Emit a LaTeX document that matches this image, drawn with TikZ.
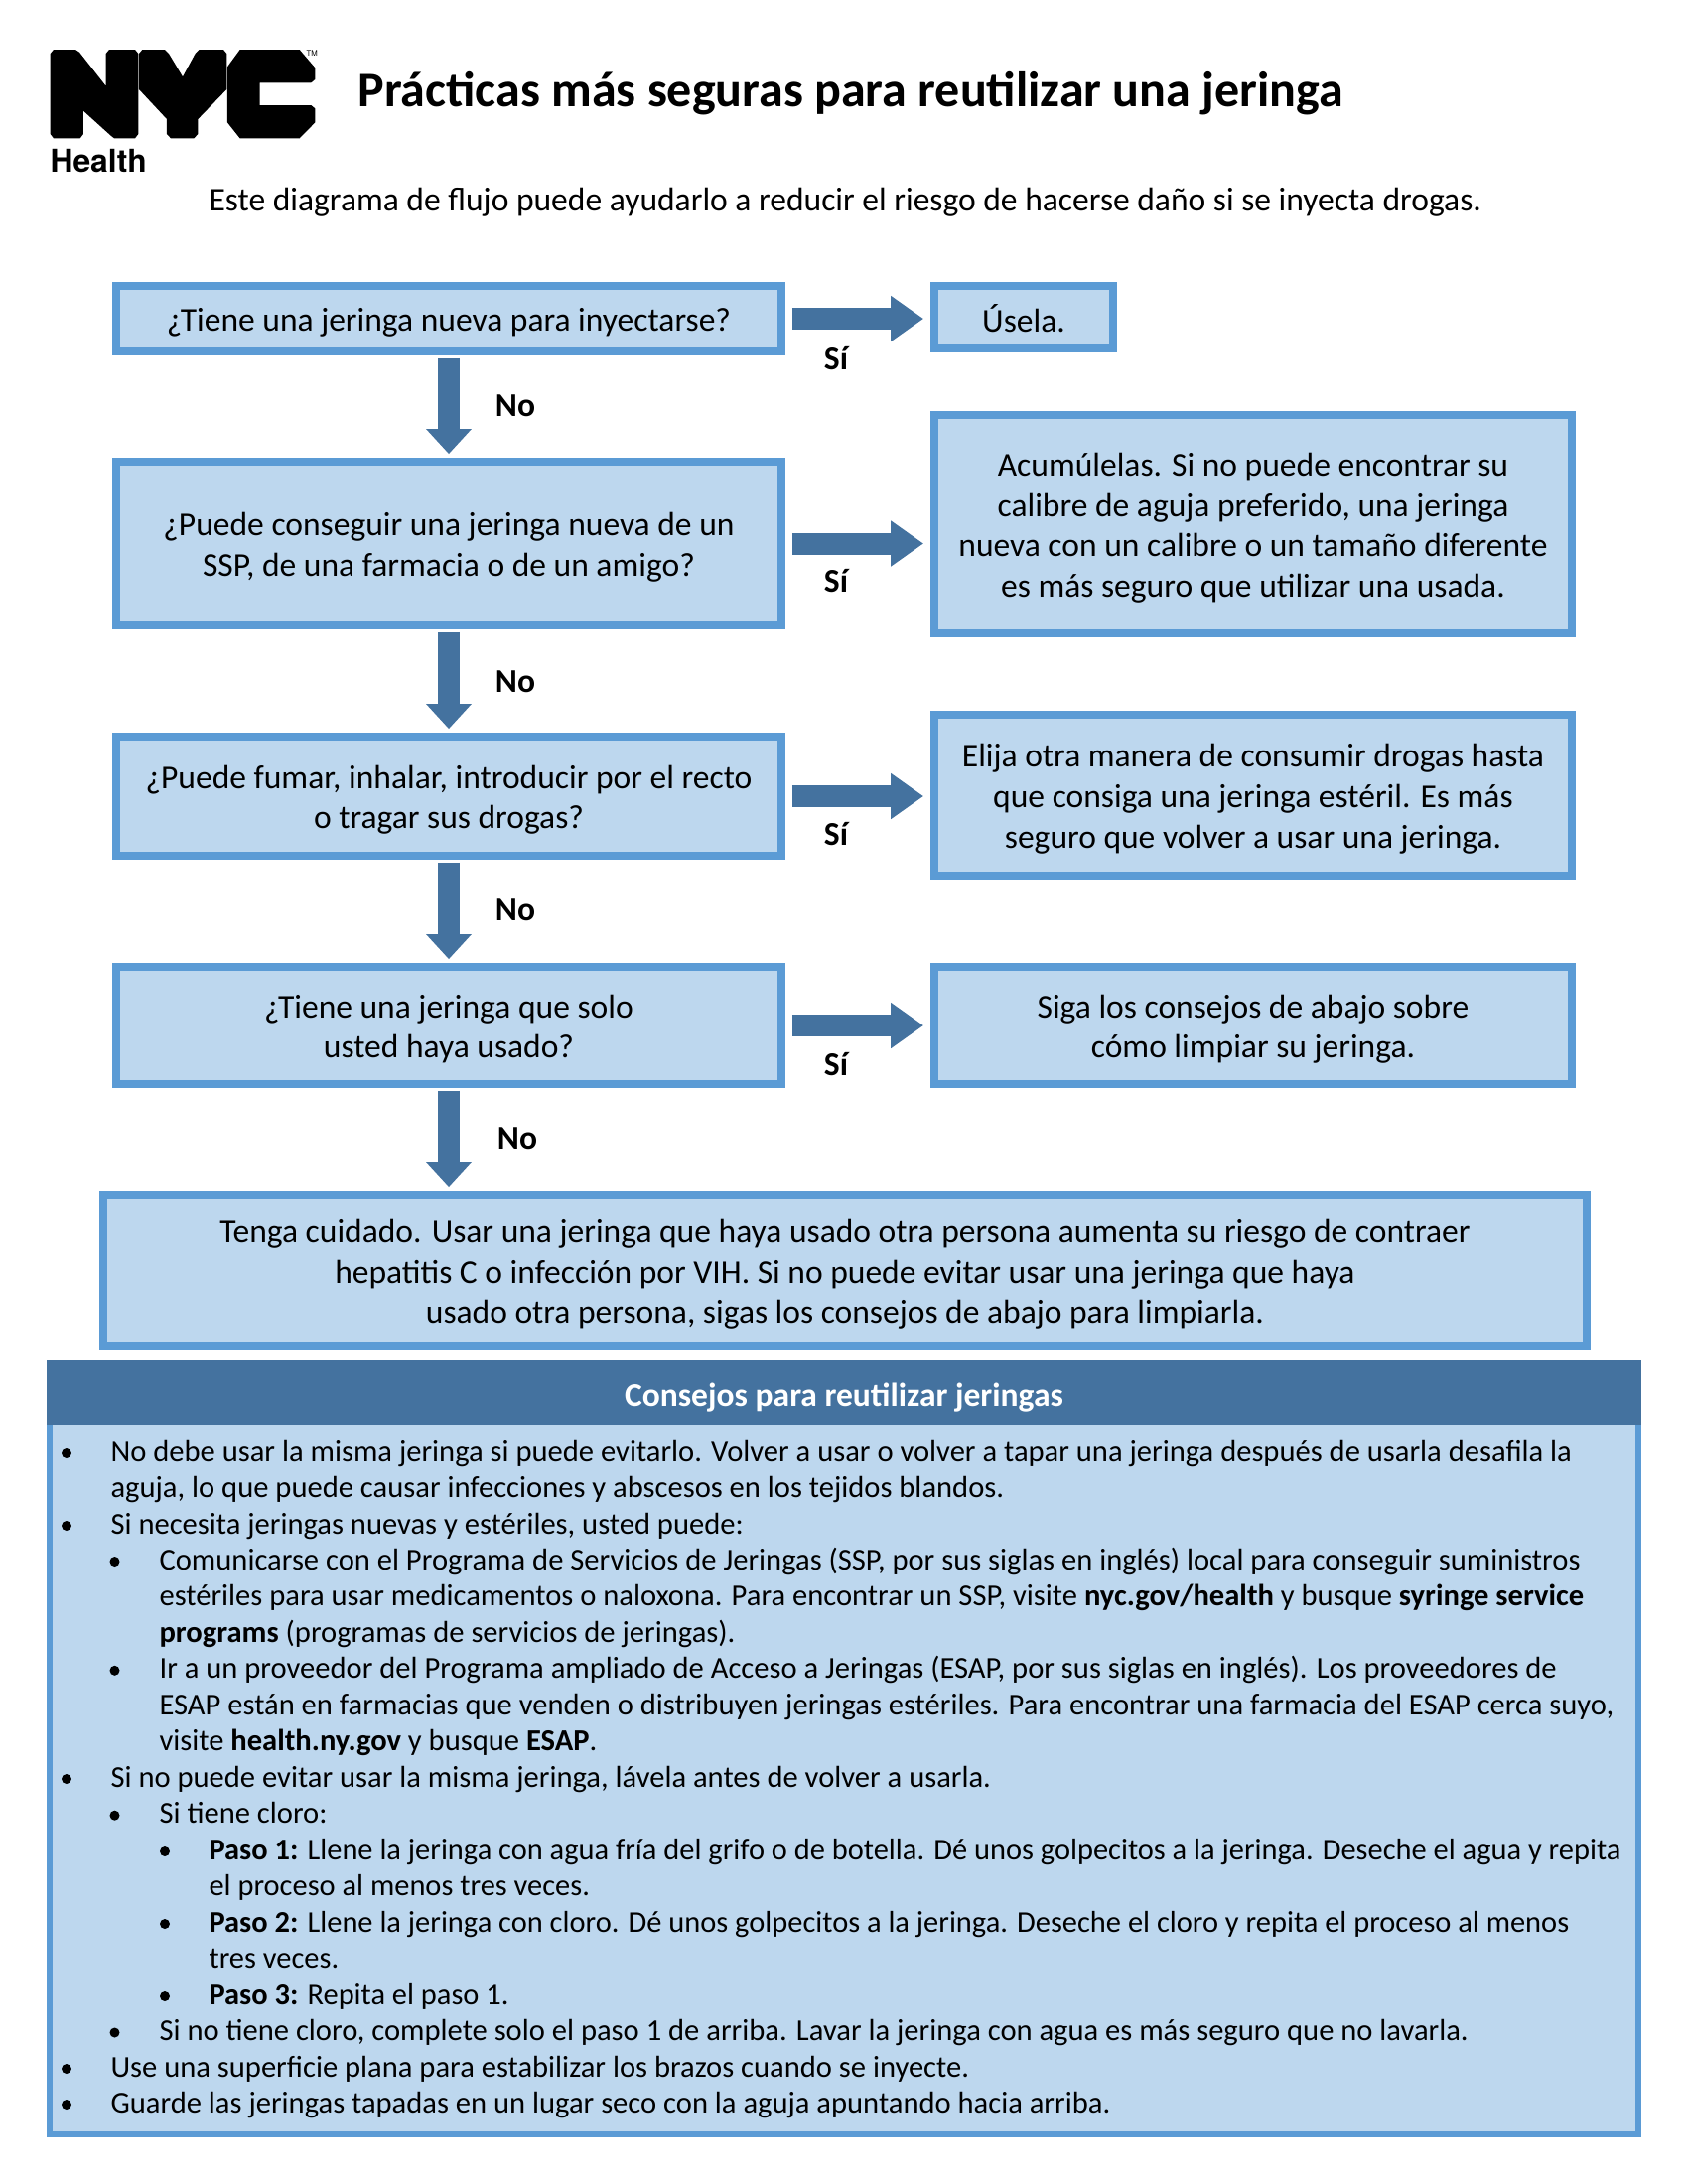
\documentclass[tikz,border=0pt]{standalone}
\usepackage{fontspec}
\setmainfont{Carlito}
\newfontfamily\heroslogo{TeX Gyre Heros}
\usetikzlibrary{arrows.meta}
\definecolor{boxfill}{HTML}{BDD7EE}
\definecolor{boxline}{HTML}{5B9BD5}
\definecolor{arrowblue}{HTML}{44729F}
\def\px{0.36135pt}
\newcommand{\toprow}{\rule{0pt}{11pt}}
\begin{document}
\begin{tikzpicture}
[x=0.36135pt, y=-0.36135pt, font=\fontsize{12.12}{14.7}\selectfont]
\tikzstyle{flowbox}=[rectangle, draw=boxline, fill=boxfill, line width=2.89pt, align=center, inner sep=0mm]
\tikzstyle{tiptext}=[anchor=north west, align=left, inner sep=0mm, font=\fontsize{11.05}{13.18}\selectfont]
\tikzstyle{steptext}=[tiptext, font=\fontsize{11}{13.18}\selectfont]
\tikzstyle{tipdot}=[circle, fill=black, inner sep=0mm, minimum size=10*\px]
\tikzstyle{answer}=[font=\fontsize{12.12}{14.7}\selectfont\bfseries, inner sep=0mm]
\tikzstyle{yesarrow}=[arrowblue, line width=7.95pt, -{Triangle[width=15.9pt,length=11.9pt]}, shorten <=2.5pt, shorten >=2.5pt]
\tikzstyle{noarrow}=[arrowblue, line width=7.95pt, -{Triangle[width=15.9pt,length=9pt]}, shorten <=1pt, shorten >=1.4pt]
\useasboundingbox (0,0) rectangle (1700,2200);

\begin{scope}[shift={(40,40)}, scale=0.33333]
\fill (42,30)--(108,30)--(120,38)--(200,140)--(200,42)--(210,30)--(288,30)--(298,42)--(298,285)--(288,298)--(225,298)--(215,290)--(132,215)--(132,285)--(122,298)--(42,298)--(32,285)--(32,42)--cycle;
\fill (310,30)--(378,30)--(390,42)--(432,112)--(470,42)--(482,30)--(555,30)--(565,42)--(565,150)--(478,240)--(478,285)--(466,298)--(396,298)--(384,285)--(384,240)--(300,150)--(300,42)--cycle;
\fill (605,30)--(785,30)--(832,85)--(832,120)--(820,130)--(665,130)--(665,198)--(820,198)--(832,208)--(832,250)--(785,298)--(605,298)--(567,250)--(567,82)--cycle;
\end{scope}
\node[anchor=north west, inner sep=0mm, font=\heroslogo\fontsize{2.8}{3}\selectfont] (tm) at (308,50) {TM};
\node[anchor=base west, inner sep=0mm, font=\heroslogo\fontsize{11.5}{13}\selectfont\bfseries] (health) at (50,173) {Health};

\node[anchor=base west, inner sep=0mm, font=\fontsize{18.08}{22}\selectfont\bfseries] (title) at (360,107) {Prácticas más seguras para reutilizar una jeringa};
\node[anchor=base west, inner sep=0mm] (intro) at (210,212.5) {Este diagrama de flujo puede ayudarlo a reducir el riesgo de hacerse daño si se inyecta drogas.};

\node[flowbox, minimum width=670*\px, minimum height=66*\px]	(B1)	at (452,321)	{\toprow ¿Tiene una jeringa nueva para inyectarse?};
\node[flowbox, minimum width=670*\px, minimum height=165*\px]	(B2)	at (452,547.5)	{\toprow ¿Puede conseguir una jeringa nueva de un\\SSP, de una farmacia o de un amigo?};
\node[flowbox, minimum width=670*\px, minimum height=120*\px]	(B3)	at (452,802)	{\toprow ¿Puede fumar, inhalar, introducir por el recto\\o tragar sus drogas?};
\node[flowbox, minimum width=670*\px, minimum height=118*\px]	(B4)	at (452,1033)	{\toprow ¿Tiene una jeringa que solo\\usted haya usado?};
\node[flowbox, minimum width=1494*\px, minimum height=152*\px]	(B5)	at (851,1280)	{\toprow Tenga cuidado. Usar una jeringa que haya usado otra persona aumenta su riesgo de contraer\\hepatitis C o infección por VIH. Si no puede evitar usar una jeringa que haya\\usado otra persona, sigas los consejos de abajo para limpiarla.};

\node[flowbox, minimum width=180*\px, minimum height=63*\px]	(Y1)	at (1031,319.5)	{\toprow Úsela.};
\node[flowbox, minimum width=642*\px, minimum height=220*\px]	(Y2)	at (1262,528)	{\toprow Acumúlelas. Si no puede encontrar su\\calibre de aguja preferido, una jeringa\\nueva con un calibre o un tamaño diferente\\es más seguro que utilizar una usada.};
\node[flowbox, minimum width=642*\px, minimum height=162*\px]	(Y3)	at (1262,801)	{\toprow Elija otra manera de consumir drogas hasta\\que consiga una jeringa estéril. Es más\\seguro que volver a usar una jeringa.};
\node[flowbox, minimum width=642*\px, minimum height=118*\px]	(Y4)	at (1262,1033)	{\toprow Siga los consejos de abajo sobre\\cómo limpiar su jeringa.};

\draw[yesarrow]    (B1.east)--(B1.east -| Y1.west);
\draw[yesarrow]    (B2.east)--(B2.east -| Y2.west);
\draw[yesarrow]    (B3.east)--(B3.east -| Y3.west);
\draw[yesarrow]    (B4.east)--(B4.east -| Y4.west);
\draw[noarrow]    (B1.south)--(B2.north);
\draw[noarrow]    (B2.south)--(B3.north);
\draw[noarrow]    (B3.south)--(B4.north);
\draw[noarrow]    (B4.south)--(B4.south |- B5.north);

\node[answer]	(S1)	at (842,361)	{Sí};
\node[answer]	(S2)	at (842,585)	{Sí};
\node[answer]	(S3)	at (842,840)	{Sí};
\node[answer]	(S4)	at (842,1072)	{Sí};
\node[answer]	(N1)	at (519,409)	{No};
\node[answer]	(N2)	at (519,687)	{No};
\node[answer]	(N3)	at (519,917)	{No};
\node[answer]	(N4)	at (521,1147)	{No};

\node[rectangle, draw=boxline, fill=boxfill, line width=2.17pt, minimum width=1600*\px, minimum height=777*\px, inner sep=0mm]	(panel)	at (850,1761.5)	{};
\node[rectangle, fill=arrowblue, text=white, minimum width=1606*\px, minimum height=65*\px, inner sep=0mm, font=\fontsize{12.12}{14.7}\selectfont\bfseries]	(head)	at (850,1402.5)	{\rule{0pt}{12pt}Consejos para reutilizar jeringas};

\node[tipdot]	(d1)	at (67,1464)	{};
\node[tiptext]	(t1)	at (111,1446)	{\strut No debe usar la misma jeringa si puede evitarlo. Volver a usar o volver a tapar una jeringa después de usarla desafila la\\aguja, lo que puede causar infecciones y abscesos en los tejidos blandos.};
\node[tipdot]	(d2)	at (67,1537)	{};
\node[tiptext]	(t2)	at (111,1519)	{\strut Si necesita jeringas nuevas y estériles, usted puede:};
\node[tipdot]	(d3)	at (115.5,1573)	{};
\node[tiptext]	(t3)	at (160,1555.4)	{\strut Comunicarse con el Programa de Servicios de Jeringas (SSP, por sus siglas en inglés) local para conseguir suministros\\estériles para usar medicamentos o naloxona. Para encontrar un SSP, visite \textbf{nyc.gov/health} y busque \textbf{syringe service}\\\textbf{programs} (programas de servicios de jeringas).};
\node[tipdot]	(d4)	at (115.5,1682.8)	{};
\node[tiptext]	(t4)	at (160,1664.8)	{\strut Ir a un proveedor del Programa ampliado de Acceso a Jeringas (ESAP, por sus siglas en inglés). Los proveedores de\\ESAP están en farmacias que venden o distribuyen jeringas estériles. Para encontrar una farmacia del ESAP cerca suyo,\\visite \textbf{health.ny.gov} y busque \textbf{ESAP}.};
\node[tipdot]	(d5)	at (67,1792)	{};
\node[tiptext]	(t5)	at (111,1774.2)	{\strut Si no puede evitar usar la misma jeringa, lávela antes de volver a usarla.};
\node[tipdot]	(d6)	at (115.5,1828.7)	{};
\node[tiptext]	(t6)	at (160,1810.7)	{\strut Si tiene cloro:};
\node[tipdot]	(d7)	at (166,1865)	{};
\node[steptext]	(t7)	at (210,1847.2)	{\strut\textbf{Paso 1:} Llene la jeringa con agua fría del grifo o de botella. Dé unos golpecitos a la jeringa. Deseche el agua y repita\\el proceso al menos tres veces.};
\node[tipdot]	(d8)	at (166,1938)	{};
\node[steptext]	(t8)	at (210,1920)	{\strut\textbf{Paso 2:} Llene la jeringa con cloro. Dé unos golpecitos a la jeringa. Deseche el cloro y repita el proceso al menos\\tres veces.};
\node[tipdot]	(d9)	at (166,2011)	{};
\node[steptext]	(t9)	at (210,1993)	{\strut\textbf{Paso 3:} Repita el paso 1.};
\node[tipdot]	(d10)	at (115.5,2047.5)	{};
\node[tiptext]	(t10)	at (160,2029.5)	{\strut Si no tiene cloro, complete solo el paso 1 de arriba. Lavar la jeringa con agua es más seguro que no lavarla.};
\node[tipdot]	(d11)	at (67,2084)	{};
\node[tiptext]	(t11)	at (111,2066)	{\strut Use una superficie plana para estabilizar los brazos cuando se inyecte.};
\node[tipdot]	(d12)	at (67,2120)	{};
\node[tiptext]	(t12)	at (111,2102.5)	{\strut Guarde las jeringas tapadas en un lugar seco con la aguja apuntando hacia arriba.};
\end{tikzpicture}
\end{document}
